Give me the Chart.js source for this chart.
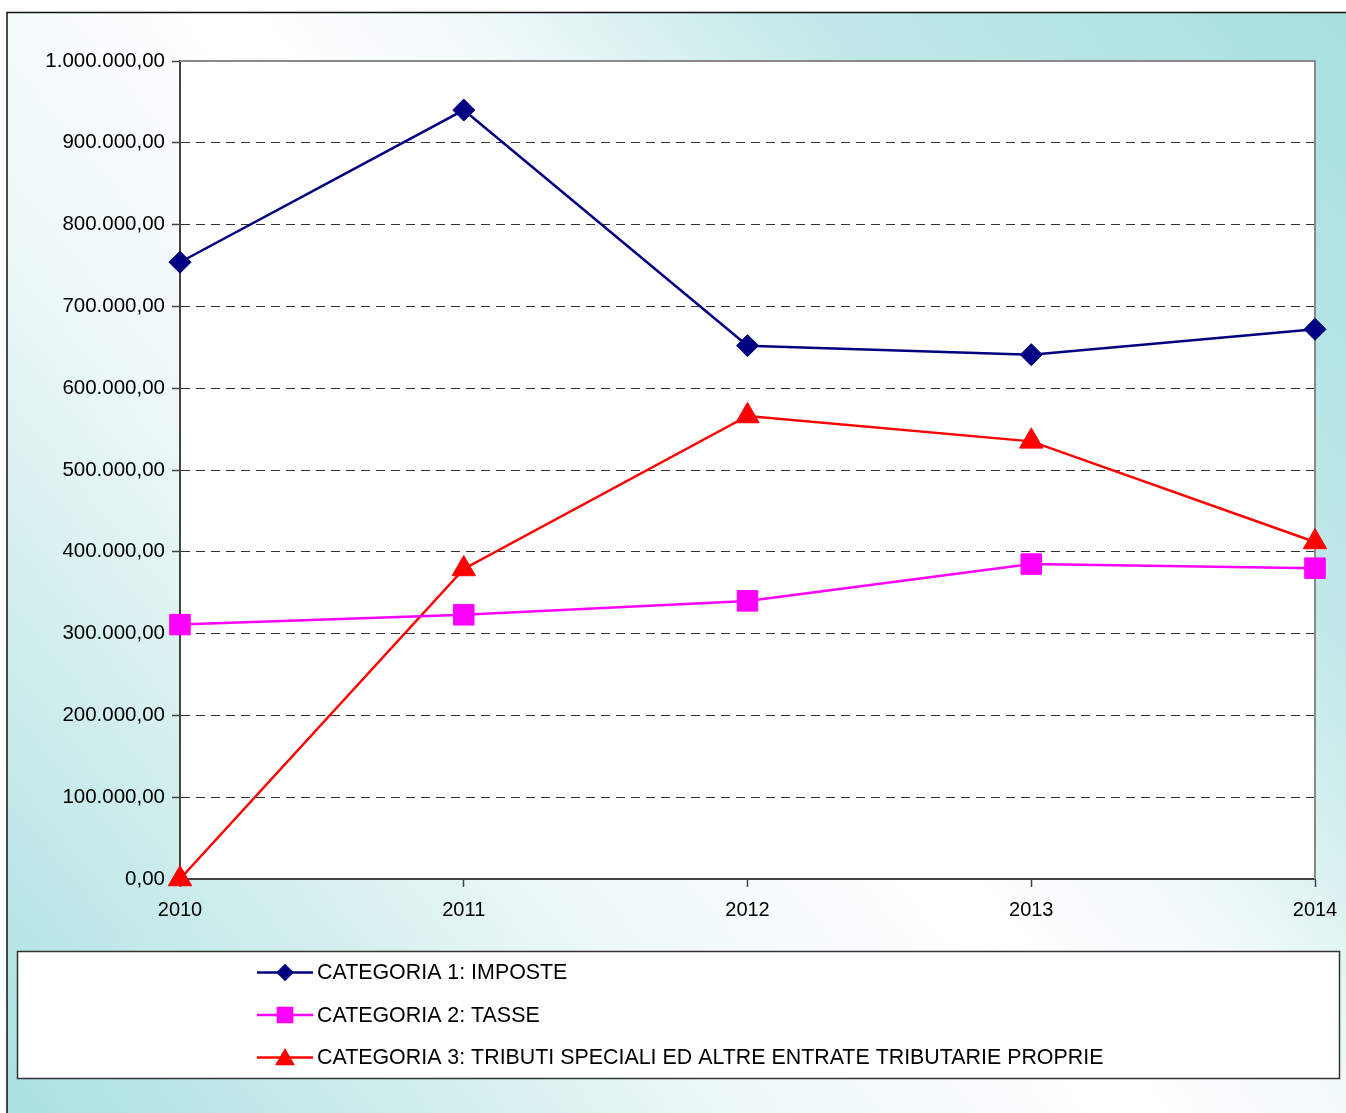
<!DOCTYPE html>
<html>
<head>
<meta charset="utf-8">
<script src="https://cdn.jsdelivr.net/npm/chart.js@4.4.1/dist/chart.umd.min.js"></script>
<style>
  html, body { margin: 0; padding: 0; background: #fff; }
  #chart { display: block; }
</style>
</head>
<body>
<canvas id="chart" width="1346" height="1113"></canvas>
<script>
// Values.
const years = ['2010', '2011', '2012', '2013', '2014'];
const imposte = [754000, 940000, 652000, 641000, 672000];
const tasse = [311000, 323000, 340000, 385000, 380000];
const tributi = [0, 379000, 566000, 535000, 412000];
const seriesNames = [
    'CATEGORIA 1: IMPOSTE',
    'CATEGORIA 2: TASSE',
    'CATEGORIA 3: TRIBUTI SPECIALI ED ALTRE ENTRATE TRIBUTARIE PROPRIE'
];
const yMax = 1000000;
const yStep = 100000;

const FONT = '"Liberation Sans", Arial, sans-serif';

// Italian style number: 1.000.000,00
function fmtIt(v) {
    const parts = Number(v).toFixed(2).split('.');
    return parts[0].replace(/\B(?=(\d{3})+(?!\d))/g, '.') + ',' + parts[1];
}

// Background gradient, outer frame, top/right plot border.
const framePlugin = {
    id: 'frame',
    beforeDraw(chart) {
        const { ctx, width, height } = chart;
        ctx.save();
        ctx.fillStyle = '#ffffff';
        ctx.fillRect(0, 0, width, height);
        const g = ctx.createLinearGradient(0, height, width, 0);
        g.addColorStop(0, '#a9e0e0');
        g.addColorStop(0.18, '#cfeded');
        g.addColorStop(0.33, '#eef8f8');
        g.addColorStop(0.5, '#ffffff');
        g.addColorStop(0.6, '#f3fafa');
        g.addColorStop(0.75, '#c3e9e9');
        g.addColorStop(1, '#a6dfdf');
        ctx.fillStyle = g;
        ctx.fillRect(7, 12, width - 7, height - 12);
        ctx.strokeStyle = '#111';
        ctx.lineWidth = 1.5;
        ctx.beginPath();
        ctx.moveTo(7, height);
        ctx.lineTo(7, 12.5);
        ctx.lineTo(width, 12.5);
        ctx.stroke();
        const a = chart.chartArea;
        ctx.fillStyle = '#ffffff';
        ctx.fillRect(a.left, a.top, a.right - a.left, a.bottom - a.top);
        ctx.restore();
    },
    beforeDatasetsDraw(chart) {
        const { ctx } = chart;
        const a = chart.chartArea;
        ctx.save();
        ctx.strokeStyle = '#8a8a8a';
        ctx.lineWidth = 2;
        ctx.beginPath();
        ctx.moveTo(a.left, a.top);
        ctx.lineTo(a.right, a.top);
        ctx.lineTo(a.right, a.bottom);
        ctx.stroke();
        ctx.restore();
    }
};

// Boxed legend, one series per row.
const boxLegendPlugin = {
    id: 'boxLegend',
    afterDraw(chart) {
        const { ctx } = chart;
        const box = { x: 17.5, y: 951.5, w: 1322, h: 127 };
        ctx.save();
        ctx.fillStyle = '#ffffff';
        ctx.fillRect(box.x, box.y, box.w, box.h);
        ctx.strokeStyle = '#333';
        ctx.lineWidth = 1.5;
        ctx.strokeRect(box.x, box.y, box.w, box.h);
        const legendRadius = [7, 10, 9];
        chart.data.datasets.forEach((ds, i) => {
            const y = 972.5 + i * 42.5;
            ctx.strokeStyle = ds.borderColor;
            ctx.lineWidth = 2.5;
            ctx.beginPath();
            ctx.moveTo(257, y);
            ctx.lineTo(313, y);
            ctx.stroke();
            ctx.fillStyle = ds.pointBackgroundColor;
            ctx.strokeStyle = ds.pointBorderColor;
            Chart.helpers.drawPoint(ctx, {
                pointStyle: ds.pointStyle,
                radius: legendRadius[i],
                rotation: 0,
                borderWidth: 1
            }, 285, ds.pointStyle === 'triangle' ? y + 2 : y);
            ctx.fillStyle = '#000';
            ctx.font = '21.4px ' + FONT;
            ctx.textBaseline = 'middle';
            ctx.textAlign = 'left';
            ctx.fillText(ds.label, 317, y + 1);
        });
        ctx.restore();
    }
};

function series(label, data, color, style, radius) {
    return {
        label: label,
        data: data,
        borderColor: color,
        backgroundColor: color,
        pointBackgroundColor: color,
        pointBorderColor: color,
        pointStyle: style,
        pointRadius: radius,
        pointHoverRadius: radius,
        pointBorderWidth: 1,
        borderWidth: 2.5,
        tension: 0,
        clip: false
    };
}

new Chart(document.getElementById('chart'), {
    type: 'line',
    data: {
        labels: years,
        datasets: [
            series(seriesNames[0], imposte, '#000080', 'rectRot', 11),
            series(seriesNames[1], tasse, '#ff00ff', 'rect', 14.5),
            series(seriesNames[2], tributi, '#ff0000', 'triangle', 13.5)
        ]
    },
    options: {
        responsive: false,
        animation: false,
        layout: { padding: { top: 61, right: 31, left: 0, bottom: 0 } },
        plugins: {
            legend: { display: false },
            tooltip: { enabled: false }
        },
        scales: {
            x: {
                offset: false,
                afterFit(scale) { scale.height = 234; },
                grid: {
                    drawOnChartArea: false,
                    drawTicks: true,
                    tickLength: 8,
                    tickColor: '#444',
                    tickWidth: 1.5
                },
                border: { display: true, color: '#444', width: 2 },
                ticks: {
                    color: '#000',
                    font: { family: FONT, size: 20, lineHeight: 1.55 },
                    padding: 8,
                    maxRotation: 0
                }
            },
            y: {
                min: 0,
                max: yMax,
                afterFit(scale) { scale.width = 180; },
                grid: {
                    color: ctx => (ctx.tick && (ctx.tick.value === 0 || ctx.tick.value === yMax)) ? 'rgba(0,0,0,0)' : '#333',
                    lineWidth: 1,
                    tickColor: '#444',
                    tickLength: 8,
                    tickWidth: 1.5,
                    tickBorderDash: []
                },
                border: { display: true, color: '#444', width: 2, dash: [9, 6] },
                ticks: {
                    stepSize: yStep,
                    color: '#000',
                    font: { family: FONT, size: 20.5 },
                    padding: 7,
                    callback: v => fmtIt(v)
                }
            }
        }
    },
    plugins: [framePlugin, boxLegendPlugin]
});
</script>
</body>
</html>
